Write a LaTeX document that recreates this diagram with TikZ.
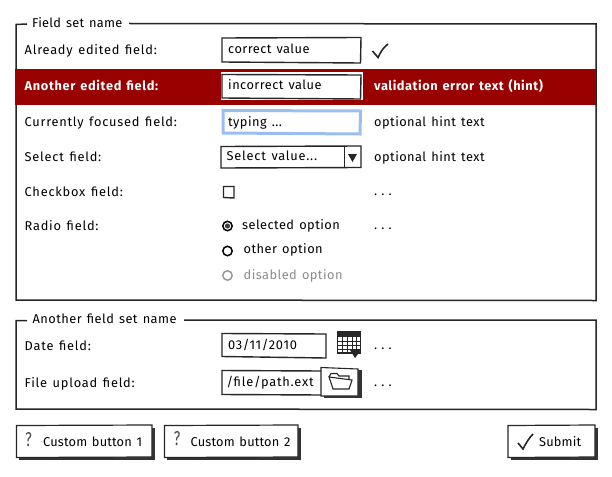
\documentclass[tikz,border=0pt]{standalone}
\usepackage{fontspec}
\setmainfont[LetterSpace=3.5,WordSpace=1.35]{Fira Sans}
\begin{document}
\begin{tikzpicture}[x=1pt,y=-1pt,
  frame/.style={draw=black!85,line width=1.5pt},
  box/.style={draw=black!85,line width=1.4pt,fill=white},
  lbl/.style={anchor=west,inner sep=0pt,text height=9pt,text depth=3pt,font=\fontsize{12.8}{14}\selectfont,text=black},
  wide/.style={lbl,font=\fontsize{12.8}{14}\selectfont\addfontfeature{LetterSpace=6}},
  tight/.style={lbl,font=\fontsize{12.8}{14}\selectfont\addfontfeature{LetterSpace=1.2}},
  legendtxt/.style={lbl,font=\fontsize{12.8}{14}\selectfont\addfontfeature{LetterSpace=2.2}},
  dots/.style={lbl,font=\fontsize{12.8}{14}\selectfont\addfontfeature{LetterSpace=32}},
  redtxt/.style={lbl,text=white,font=\fontsize{12.8}{14}\selectfont\bfseries\addfontfeature{LetterSpace=5}},
  grey/.style={lbl,text=black!45},
  radio/.style={draw=black,line width=1.5pt,fill=white},
  shadow/.style={fill=black!80,draw=none},
  qmark/.style={anchor=center,inner sep=0pt,text=black!70,xscale=0.7,font=\fontsize{20}{22}\selectfont}]
\useasboundingbox (0,0) rectangle (612,476);
\fill[white] (0,0) rectangle (612,476);
% fieldset 1
\draw[frame] (27,24) -- (16,24.5) -- (16,300) -- (596,300.5) -- (596,24) -- (129,23.5);
\node[legendtxt] (fs1) at (32,25) {Field set name};
% red band
\fill[fill={rgb,255:red,153;green,0;blue,0}] (15,69) rectangle (596,105);
% row 1
\node[wide] (l1) at (24.5,52) {Already edited field:};
\draw[box] (222,38) -- (361,37.5) -- (360.5,63) -- (222,62) -- cycle;
\node[lbl] (v1) at (228,51) {correct value};
\draw[line width=1.6pt,black!85] (372.5,51) -- (378,57.5) .. controls (381,51) and (384,47) .. (388,44);
% row 2
\node[redtxt] (l2) at (24.5,87.7) {Another edited field:};
\fill[white] (221,72) rectangle (362.5,100.5);
\draw[box] (222,74.5) -- (361,75) -- (360.5,99) -- (222,98) -- cycle;
\node[lbl] (v2) at (228,87) {incorrect value};
\node[redtxt,font=\fontsize{12.8}{14}\selectfont\bfseries\addfontfeature{LetterSpace=4.2}] (h2) at (374,87.5) {validation error text (hint)};
% row 3
\node[wide] (l3) at (24.5,123.7) {Currently focused field:};
\draw[draw={rgb,255:red,155;green,190;blue,240},line width=3pt,fill=white] (223,110.5) -- (360.5,111) -- (360,134) -- (223,133) -- cycle;
\node[lbl] (v3) at (228,123) {typing ...};
\node[lbl] (h3) at (374,123.5) {optional hint text};
% row 4
\node[wide] (l4) at (24.5,158.7) {Select field:};
\draw[box] (221,146.5) -- (361,146) -- (361,167.5) -- (221,168) -- cycle;
\draw[line width=1.4pt,black!85] (344.5,146.5) -- (344.5,167.5);
\fill[black!85] (348,154) -- (357,154) -- (352.5,162) -- cycle;
\node[wide] (v4) at (226.5,157) {Select value...};
\node[lbl] (h4) at (374,158.5) {optional hint text};
% row 5
\node[wide] (l5) at (24.5,193) {Checkbox field:};
\draw[line width=1.4pt,black!85] (223.5,186.5) -- (234,186.5) -- (234,198) -- (223.5,197.5) -- cycle;
\node[dots] (h5) at (374,192.5) {...};
% row 6
\node[wide] (l6) at (24.5,227) {Radio field:};
\draw[radio] (227.5,226) circle (4.7);
\fill[black!75] (227.5,226) circle (2.6);
\node[lbl] (r1) at (242,226) {selected option};
\draw[radio] (227.5,251) circle (4.7);
\node[lbl] (r2) at (243.5,250.3) {other option};
\draw[radio,draw=black!40] (227.5,275.5) circle (4.7);
\node[grey] (r3) at (243.5,276) {disabled option};
\node[dots] (h6) at (374,226.5) {...};
% fieldset 2
\draw[frame] (27,320.5) -- (16,320.5) -- (16,409) -- (596,409.5) -- (596,320) -- (184,320);
\node[lbl] (fs2) at (32.5,320.5) {Another field set name};
% date
\node[wide] (l7) at (24.5,347) {Date field:};
\draw[box] (222,333.5) -- (326,334) -- (326,358) -- (222,356.5) -- cycle;
\node[wide] (v7) at (228,346.3) {03/11/2010};
% calendar
\fill[black!85] (337,332) rectangle (361,337);
\draw[line width=1.2pt,black!85] (337.5,332) rectangle (360.5,353);
\foreach \xx in {342,347,352,356}{\draw[line width=1pt,black!85] (\xx,337) -- (\xx,353);}
\foreach \yy in {341,345,349}{\draw[line width=1pt,black!85] (337.5,\yy) -- (360.5,\yy);}
\fill[black!85] (350,350) -- (361,350) -- (355,358) -- cycle;
\node[dots] (h7) at (374,346.5) {...};
% file
\node[wide] (l8) at (24.5,384) {File upload field:};
\draw[box] (222,370.5) -- (322,371) -- (322,395) -- (222,394.5) -- cycle;
\node[wide] (v8) at (226.5,383.7) {/file/path.ext};
\fill[shadow] (324,370) rectangle (361.5,398);
\draw[line width=1.1pt,black!85,fill=white] (321,367.5) -- (358,369) -- (358,396) -- (321,396) -- cycle;
\draw[line width=1.1pt,black!85,fill=white] (329,377) -- (331,373.5) -- (337,373.5) -- (339,376) -- (349,376) -- (349,380) ;
\draw[line width=1.1pt,black!85,fill=white] (329,377) -- (352,380) -- (349,389) -- (333,389) -- cycle;
\node[dots] (h8) at (374,383.5) {...};
% buttons
\fill[shadow] (19,428) rectangle (155,460);
\draw[line width=1.2pt,black!85,fill=white] (16.5,425.5) -- (152,425) -- (152,457) -- (16.5,457.5) -- cycle;
\node[qmark] (q1) at (28.5,440) {?};
\node[tight] (b1) at (43,443) {Custom button 1};
\fill[shadow] (167,428) rectangle (301,460);
\draw[line width=1.2pt,black!85,fill=white] (164.5,425.5) -- (298,425) -- (298,457) -- (164.5,457.5) -- cycle;
\node[qmark] (q2) at (177,439) {?};
\node[tight] (b2) at (190.5,443) {Custom button 2};
\fill[shadow] (511,428) rectangle (598,460);
\draw[line width=1.2pt,black!85,fill=white] (508,425.5) -- (595,425) -- (595,457) -- (508,457.5) -- cycle;
\draw[line width=1.6pt,black!85] (518,443) -- (523,449) .. controls (526,443) and (529,438) .. (533,434);
\node[tight] (b3) at (539,443) {Submit};
\end{tikzpicture}
\end{document}
